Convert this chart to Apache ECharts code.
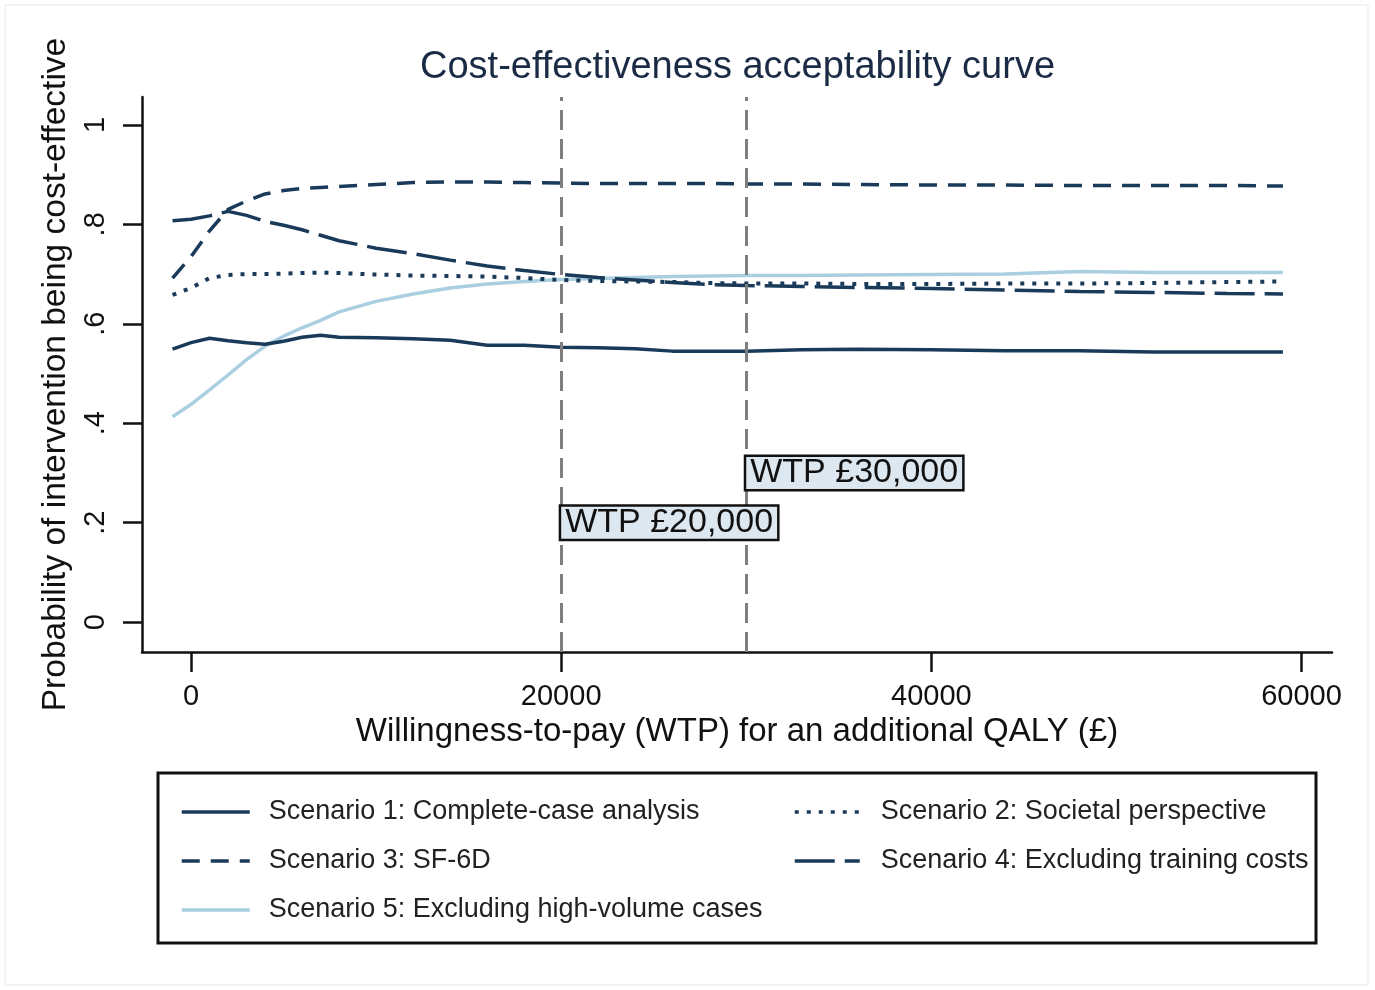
<!DOCTYPE html>
<html>
<head>
<meta charset="utf-8">
<script src="https://cdn.jsdelivr.net/npm/echarts@6/dist/echarts.min.js"></script>
<style>
html,body{margin:0;padding:0;background:#fff;}
#chart{width:1375px;height:990px;}
</style>
</head>
<body>
<div id="chart"></div>
<script>
// ---- data ----
const wtp = [-1000, 0, 1000, 2000, 3000, 4000, 5000, 6000, 7000, 8000, 10000, 12000, 14000, 16000, 18000, 20000, 22000, 24000, 26000, 28000, 30000, 33000, 36000, 40000, 44000, 48000, 52000, 56000, 59000];
const s1 = [0.549, 0.562, 0.571, 0.566, 0.562, 0.559, 0.565, 0.573, 0.577, 0.573, 0.572, 0.570, 0.567, 0.557, 0.557, 0.553, 0.552, 0.550, 0.545, 0.545, 0.545, 0.548, 0.549, 0.548, 0.546, 0.546, 0.543, 0.543, 0.543];
const s2 = [0.658, 0.672, 0.692, 0.698, 0.700, 0.700, 0.701, 0.702, 0.703, 0.702, 0.699, 0.697, 0.696, 0.695, 0.692, 0.688, 0.686, 0.685, 0.684, 0.682, 0.681, 0.681, 0.680, 0.680, 0.681, 0.681, 0.682, 0.684, 0.685];
const s3 = [0.692, 0.735, 0.787, 0.830, 0.847, 0.861, 0.868, 0.872, 0.874, 0.876, 0.880, 0.884, 0.885, 0.885, 0.884, 0.883, 0.882, 0.882, 0.882, 0.882, 0.881, 0.881, 0.880, 0.879, 0.879, 0.878, 0.878, 0.878, 0.877];
const s4 = [0.807, 0.810, 0.817, 0.826, 0.818, 0.806, 0.798, 0.789, 0.778, 0.767, 0.752, 0.741, 0.728, 0.716, 0.707, 0.699, 0.693, 0.688, 0.683, 0.679, 0.677, 0.675, 0.673, 0.671, 0.668, 0.665, 0.663, 0.661, 0.660];
const s5 = [0.413, 0.438, 0.467, 0.497, 0.528, 0.555, 0.575, 0.592, 0.607, 0.624, 0.645, 0.660, 0.672, 0.680, 0.685, 0.689, 0.691, 0.693, 0.695, 0.696, 0.697, 0.697, 0.698, 0.699, 0.700, 0.705, 0.703, 0.703, 0.703];
const seriesNames = [
  'Scenario 1: Complete-case analysis',
  'Scenario 2: Societal perspective',
  'Scenario 3: SF-6D',
  'Scenario 4: Excluding training costs',
  'Scenario 5: Excluding high-volume cases'
];
const xTicks = [0, 20000, 40000, 60000];
const xTickLabels = ['0', '20000', '40000', '60000'];
const yTicks = [0, 0.2, 0.4, 0.6, 0.8, 1];
const yTickLabels = ['0', '.2', '.4', '.6', '.8', '1'];
const wtpLines = [20000, 30000];
const annotY = [0.2, 0.3];
const annotText = ['WTP £20,000', 'WTP £30,000'];

// ---- chart ----
const FONT = '"Liberation Sans", Arial, Helvetica, sans-serif';
const NAVY = '#1a3a5a';
const LIGHT = '#a9cfe0';

function pairs(ys) { return wtp.map((x, i) => [x, ys[i]]); }
function lookup(ticks, labels, v) {
  for (let i = 0; i < ticks.length; i++) if (Math.abs(ticks[i] - v) < 1e-9) return labels[i];
  return '';
}

const chart = echarts.init(document.getElementById('chart'), null, {renderer: 'canvas'});
const lineDefs = [
  {data: s1, color: NAVY, type: 'solid', width: 3.5},
  {data: s2, color: NAVY, type: [4, 8], width: 4},
  {data: s3, color: NAVY, type: [18, 11], width: 3.5},
  {data: s4, color: NAVY, type: [40, 10], width: 3.5},
  {data: s5, color: LIGHT, type: 'solid', width: 3.5}
];
const series = lineDefs.map((d, i) => ({
  name: seriesNames[i],
  type: 'line',
  data: pairs(d.data),
  symbol: 'none',
  smooth: false,
  lineStyle: {color: d.color, width: d.width, type: d.type},
  itemStyle: {color: d.color},
  z: i === 4 ? 1 : 2
}));
series.push({
  name: 'refs',
  type: 'scatter',
  symbolSize: 0,
  itemStyle: {opacity: 1},
  data: wtpLines.map((x, i) => [x, annotY[i]]),
  label: {
    show: true,
    position: 'right',
    distance: 0,
    formatter: p => annotText[p.dataIndex],
    fontFamily: FONT,
    fontSize: 34,
    lineHeight: 31,
    color: '#111',
    opacity: 1,
    backgroundColor: '#dde7ef',
    borderColor: '#111',
    borderWidth: 2.5,
    padding: [1, 4, 0, 4]
  },
  markLine: {
    silent: true,
    symbol: 'none',
    label: {show: false},
    lineStyle: {color: '#7f7f7f', width: 3, type: [20, 9], opacity: 1},
    data: wtpLines.map(x => ({xAxis: x}))
  },
  z: 5
});

chart.setOption({
  animation: false,
  backgroundColor: '#ffffff',
  title: {
    text: 'Cost-effectiveness acceptability curve',
    left: 420, top: 49, padding: 0,
    textStyle: {fontFamily: FONT, fontSize: 38, fontWeight: 'normal', color: '#1c2b45'}
  },
  grid: {left: 142, right: 43, top: 97, bottom: 338, containLabel: false},
  xAxis: {
    type: 'value',
    min: -2650, max: 61650,
    name: 'Willingness-to-pay (WTP) for an additional QALY (£)',
    nameLocation: 'middle',
    nameGap: 61,
    nameTextStyle: {fontFamily: FONT, fontSize: 33, color: '#111'},
    axisLine: {show: true, onZero: false, lineStyle: {color: '#111', width: 2.5}},
    axisTick: {show: true, length: 20, lineStyle: {color: '#111', width: 2.5}, customValues: xTicks},
    axisLabel: {show: true, customValues: xTicks, margin: 30, fontFamily: FONT, fontSize: 29, color: '#111',
      formatter: v => lookup(xTicks, xTickLabels, v)},
    splitLine: {show: false}
  },
  yAxis: {
    type: 'value',
    min: -0.06, max: 1.056,
    name: 'Probability of intervention being cost-effective',
    nameLocation: 'middle',
    nameGap: 53,
    nameTextStyle: {fontFamily: FONT, fontSize: 33.5, color: '#111'},
    axisLine: {show: true, onZero: false, lineStyle: {color: '#111', width: 2.5}},
    axisTick: {show: true, length: 19, lineStyle: {color: '#111', width: 2.5}, customValues: yTicks},
    axisLabel: {show: true, customValues: yTicks, rotate: 90, margin: 32, fontFamily: FONT, fontSize: 29, color: '#111',
      formatter: v => lookup(yTicks, yTickLabels, v)},
    splitLine: {show: false}
  },
  legend: [
    {
      orient: 'vertical', left: 180, top: 797, itemWidth: 68, itemHeight: 14, itemGap: 19, padding: 0,
      data: [seriesNames[0], seriesNames[2], seriesNames[4]],
      lineStyle: {width: 3.5},
      itemStyle: {opacity: 0},
      textStyle: {fontFamily: FONT, fontSize: 27, lineHeight: 30, color: '#222', padding: [0, 0, 0, 14]},
      selectedMode: false
    },
    {
      orient: 'vertical', left: 793, top: 797, itemWidth: 65, itemHeight: 14, itemGap: 19, padding: 0,
      data: [seriesNames[1], seriesNames[3]],
      lineStyle: {width: 3.5},
      itemStyle: {opacity: 0},
      textStyle: {fontFamily: FONT, fontSize: 27, lineHeight: 30, color: '#222', padding: [0, 0, 0, 16]},
      selectedMode: false
    }
  ],
  graphic: [
    {type: 'rect', shape: {x: 5, y: 5, width: 1363, height: 980}, style: {fill: 'none', stroke: '#e9e9e9', lineWidth: 1}, silent: true, z: -1},
    {type: 'rect', shape: {x: 158, y: 773, width: 1158, height: 170}, style: {fill: 'none', stroke: '#111', lineWidth: 3}, silent: true}
  ],
  series: series
});
</script>
</body>
</html>
